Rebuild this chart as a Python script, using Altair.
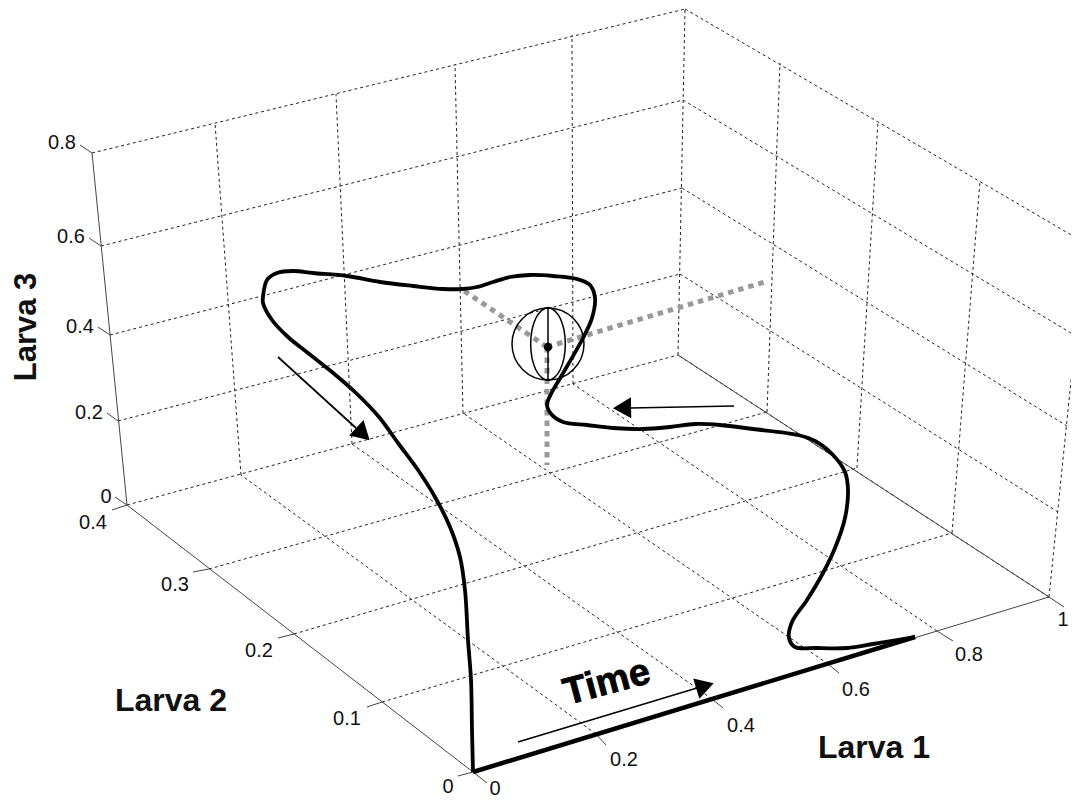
import altair as alt
import pandas as pd

X_DOMAIN = [8, 1071]
Y_DOMAIN = [798, 8]

# Floor: Larva 1 ticks on the front edge and on the back edge
front_l1 = [(473, 772), (596, 734), (712, 699), (828, 664), (937, 631), (1049, 597)]
back_l1 = [(127, 505), (241, 475), (352, 444), (463, 413), (573, 384), (678, 355)]
# Floor: Larva 2 ticks on the left edge and on the right edge
left_l2 = [(473, 772), (382, 702), (294, 634), (209, 569), (127, 505)]
right_l2 = [(1049, 597), (952, 533), (857, 468), (767, 412), (678, 355)]
# Walls: Larva 3 levels 0.2 .. 0.8 on the three upright edges
left_l3 = [(118, 421), (110, 335), (101, 246), (92, 153)]
back_l3 = [(680, 274), (682, 188), (683, 100), (685, 9)]
right_l3 = [(1058, 512), (1067, 426), (1076, 336), (1085, 243)]
# Tops of upright grid lines
top_left_wall = [(215, 123), (336, 94), (455, 64), (572, 35)]
top_right_wall = [(780, 63), (878, 121), (980, 181)]

# Solid axis lines
solid_axes = [
    [(473, 772), (1049, 597)],
    [(473, 772), (127, 505)],
    [(127, 505), (92, 153)],
    [(678, 355), (1049, 597)],
]
# Tick stubs
tick_stubs = [
    [(92, 153), (80, 145)], [(101, 246), (89, 238)], [(110, 335), (98, 327)],
    [(118, 421), (107, 413)], [(127, 505), (115, 497)],
    [(127, 505), (112, 510)], [(209, 569), (193, 572)], [(294, 634), (278, 638)],
    [(382, 702), (367, 707)], [(473, 772), (458, 776)],
    [(473, 772), (487, 783)], [(596, 734), (606, 745)], [(712, 699), (723, 708)],
    [(828, 664), (839, 673)], [(937, 631), (953, 641)], [(1049, 597), (1064, 607)],
]
tick_text = ["0.8", "0.6", "0.4", "0.2", "0", "0.4", "0.3", "0.2", "0.1", "0",
             "0", "0.2", "0.4", "0.6", "0.8", "1"]
tick_x = [62, 71, 80, 89, 106, 93, 175, 259, 347, 448, 495, 624, 741, 856, 969, 1063]
tick_y = [143, 237, 327, 413, 497, 523, 585, 651, 719, 787, 789, 760, 726, 690, 655, 620]

# Trajectory
out_leg = [(473, 772), (915, 637)]
trajectory = [
    (915, 637), (897, 640), (873, 644), (847, 648), (817, 648), (795, 647), (789, 638),
    (792, 622), (807, 600), (823, 573), (835, 548), (845, 518), (848, 490), (845, 472),
    (833, 455), (815, 441), (798, 435), (753, 429), (720, 425), (695, 424), (670, 427),
    (643, 429), (613, 428), (587, 425), (563, 422), (552, 415), (547, 405), (552, 392),
    (562, 375), (583, 338), (592, 318), (595, 298), (590, 285), (577, 279), (553, 276),
    (530, 275), (510, 277), (493, 282), (477, 287), (462, 289), (443, 289), (413, 286),
    (380, 282), (347, 276), (313, 273), (293, 271), (277, 273), (267, 280), (263, 297),
    (263, 303), (272, 320), (288, 337), (308, 353), (332, 372), (356, 393), (379, 417),
    (398, 443), (418, 470), (435, 497), (450, 527), (460, 557), (465, 590), (468, 640),
    (471, 680), (472, 730), (473, 772),
]

# Projection guides from the marked point
guides = [
    [(547, 347), (463, 290)],
    [(547, 347), (768, 281)],
    [(547, 347), (547, 465)],
]
# Sphere
sphere_center = [(548, 344)]
sphere_dot = [(548, 347)]
sphere_meridian = [(548, 307), (548, 380)]
sphere_ellipse = [(548, 307.5), (560.2, 318.3), (565.3, 344), (560.2, 369.7),
                  (548, 380.5), (535.8, 369.7), (530.7, 344), (535.8, 318.3)]

# Arrows
arrow_shafts = [
    [(518, 742), (697, 688)],
    [(278, 357), (356, 428)],
    [(734, 406), (630, 408)],
]
arrow_head_x = [705, 363, 622]
arrow_head_y = [686, 434, 408]
arrow_head_angle = [343, 43, 179]

# Titles
title_text = ["Larva 1", "Larva 2"]
title_x = [874, 171]
title_y = [748, 701]


def x_enc():
    return alt.X("x:Q", scale=alt.Scale(domain=X_DOMAIN, nice=False, zero=False), axis=None)


def y_enc():
    return alt.Y("y:Q", scale=alt.Scale(domain=Y_DOMAIN, nice=False, zero=False), axis=None)


def frame(segments):
    rows = []
    for s, seg in enumerate(segments):
        for i, (x, y) in enumerate(seg):
            rows.append({"seg": s, "i": i, "x": x, "y": y})
    return pd.DataFrame(rows)


def lines(segments, **kw):
    return alt.Chart(frame(segments)).mark_line(clip=True, **kw).encode(
        x=x_enc(), y=y_enc(), detail="seg:N", order="i:Q")


grid_segments = (
    [[a, b] for a, b in zip(front_l1[1:], back_l1[1:])]
    + [[a, b] for a, b in zip(left_l2[1:-1], right_l2[1:-1])]
    + [back_l1[:1] + back_l1[-1:]]
    + [[a, b] for a, b in zip(left_l3, back_l3)]
    + [[a, b] for a, b in zip(back_l3, right_l3)]
    + [[a, b] for a, b in zip(back_l1[1:-1], top_left_wall)]
    + [[back_l1[-1], back_l3[-1]]]
    + [[a, b] for a, b in zip(right_l2[3:0:-1], top_right_wall)]
    + [[right_l2[0], right_l3[-1]]]
)

FONT = "Liberation Sans"

grid = lines(grid_segments, color="#222222", strokeWidth=1, strokeDash=[3, 3])
axes = lines(solid_axes, color="#444444", strokeWidth=1)
stubs = lines(tick_stubs, color="#444444", strokeWidth=1)

guide_layer = lines(guides, color="#999999", strokeWidth=5, strokeDash=[5.5, 5])
out_layer = lines([out_leg], color="black", strokeWidth=4.5)
path_layer = lines([trajectory], color="black", strokeWidth=3.8, interpolate="catmull-rom")

sphere = alt.Chart(frame([sphere_center])).mark_point(
    shape="circle", size=5184, filled=False, color="black", strokeWidth=1.5, opacity=1
).encode(x=x_enc(), y=y_enc())
meridian = lines([sphere_meridian], color="black", strokeWidth=1.5)
ellipse = lines([sphere_ellipse], color="black", strokeWidth=1.5, interpolate="cardinal-closed")
dot = alt.Chart(frame([sphere_dot])).mark_point(
    shape="circle", size=70, filled=True, color="black", opacity=1
).encode(x=x_enc(), y=y_enc())

shafts = lines(arrow_shafts, color="black", strokeWidth=1.7)
heads = alt.Chart(pd.DataFrame({"x": arrow_head_x, "y": arrow_head_y, "a": arrow_head_angle})).mark_point(
    shape="triangle-right", size=441, filled=True, color="black", opacity=1
).encode(x=x_enc(), y=y_enc(), angle=alt.Angle("a:Q", scale=None))

tick_labels = alt.Chart(pd.DataFrame({"x": tick_x, "y": tick_y, "t": tick_text})).mark_text(
    font=FONT, fontSize=20, color="#111111", align="center", baseline="middle"
).encode(x=x_enc(), y=y_enc(), text="t:N")

titles = alt.Chart(pd.DataFrame({"x": title_x, "y": title_y, "t": title_text})).mark_text(
    font=FONT, fontSize=32, fontWeight="bold", color="#111111", align="center", baseline="middle"
).encode(x=x_enc(), y=y_enc(), text="t:N")

title3 = alt.Chart(pd.DataFrame({"x": [27], "y": [327], "t": ["Larva 3"]})).mark_text(
    font=FONT, fontSize=31, fontWeight="bold", color="#111111", angle=270,
    align="center", baseline="middle"
).encode(x=x_enc(), y=y_enc(), text="t:N")

time_label = alt.Chart(pd.DataFrame({"x": [607], "y": [683], "t": ["Time"]})).mark_text(
    font=FONT, fontSize=38, fontWeight="bold", color="black", stroke="black", strokeWidth=0.8,
    angle=345, align="center", baseline="middle"
).encode(x=x_enc(), y=y_enc(), text="t:N")

chart = alt.layer(
    grid, axes, stubs, guide_layer, out_layer, path_layer, sphere, meridian, ellipse, dot,
    shafts, heads, tick_labels, titles, title3, time_label,
).properties(
    width=1063,
    height=790,
    padding=0,
    background="white",
    autosize=alt.AutoSizeParams(type="none"),
).configure_view(stroke=None)

chart.save("out.html", embed_options={"renderer": "svg", "actions": False})
